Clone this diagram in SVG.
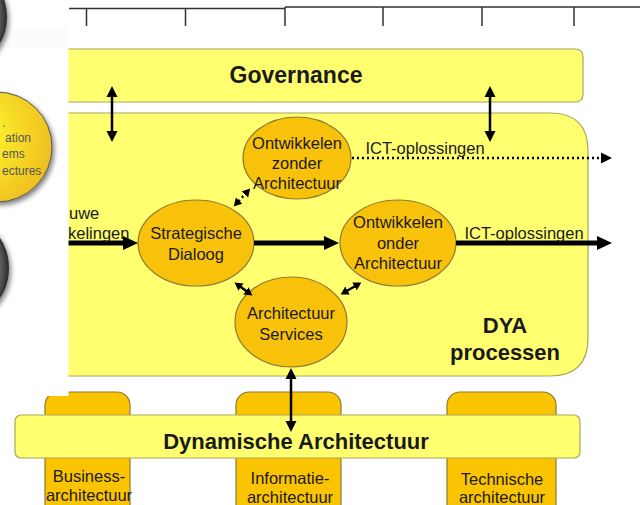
<svg xmlns="http://www.w3.org/2000/svg" width="640" height="505" viewBox="0 0 640 505">
<defs>
<style>
.bar{fill:#ffff70;stroke:#a9a65a;stroke-width:1.2}
.box{fill:#fac400;stroke:#8d7a35;stroke-width:1.2}
.ell{fill:#f9c20a;stroke:#8d7a35;stroke-width:1.2}
.t{font-family:"Liberation Sans",Arial,sans-serif;font-size:16.5px;fill:#1a1a1a;text-anchor:middle}
.tb{font-family:"Liberation Sans",Arial,sans-serif;font-weight:bold;font-size:22px;fill:#1a1a1a;text-anchor:middle}
.tl{font-family:"Liberation Sans",Arial,sans-serif;font-size:12px;fill:#555;text-anchor:start}
.thick{stroke:#000;stroke-width:5;fill:none}
.med{stroke:#000;stroke-width:2.5;fill:none}
.dot{stroke:#000;stroke-width:2.5;stroke-dasharray:2 3;fill:none}
.rule{stroke:#333;stroke-width:1.5;fill:none}
</style>
<marker id="ah" markerUnits="userSpaceOnUse" markerWidth="16" markerHeight="16" refX="1" refY="8" orient="auto"><path d="M0,1 L15,8 L0,15 z" fill="#000"/></marker>
<marker id="am" markerUnits="userSpaceOnUse" markerWidth="12" markerHeight="12" refX="1" refY="6" orient="auto-start-reverse"><path d="M0,0.5 L11,6 L0,11.5 z" fill="#000"/></marker>
<marker id="as" markerUnits="userSpaceOnUse" markerWidth="10" markerHeight="10" refX="1" refY="5" orient="auto-start-reverse"><path d="M0,0.5 L8,5 L0,9.5 z" fill="#000"/></marker>
<radialGradient id="lg" cx="0.3" cy="0.4" r="0.7"><stop offset="0" stop-color="#ffff30"/><stop offset="1" stop-color="#f0c020"/></radialGradient>
<radialGradient id="dg" cx="0.3" cy="0.5" r="0.7"><stop offset="0" stop-color="#eeeeee"/><stop offset="0.8" stop-color="#888"/><stop offset="1" stop-color="#333"/></radialGradient>
<filter id="sh" x="-30%" y="-30%" width="160%" height="160%"><feGaussianBlur in="SourceAlpha" stdDeviation="2.5"/><feOffset dx="2" dy="3"/><feComponentTransfer><feFuncA type="linear" slope="0.5"/></feComponentTransfer><feMerge><feMergeNode/><feMergeNode in="SourceGraphic"/></feMerge></filter>
</defs>
<rect width="640" height="505" fill="#fff"/>

<g id="ruler">
<path class="rule" d="M69,8.5 H285 M285,7 H640 M86.5,8.5 V26 M185.5,8.5 V26 M285,7 V26 M383,7 V26 M482,7 V26 M574,7 V26"/>
</g>

<g id="dya-box">
<path class="bar" d="M40,113 H550 Q588,113 588,151 V338 Q588,376 550,376 H40 Z"/>
<text class="tb" x="505" y="333">DYA</text>
<text class="tb" x="505" y="360">processen</text>
</g>

<g id="governance">
<path class="bar" d="M40,49 H575 Q583,49 583,57 V94 Q583,102 575,102 H40 Z"/>
<text class="tb" x="296" y="83" style="font-size:23px">Governance</text>
</g>

<g id="business">
<rect class="box" x="45" y="392" width="85" height="125" rx="13"/>
<text class="t" x="89" y="482">Business-</text>
<text class="t" x="89" y="501">architectuur</text>
</g>
<g id="informatie">
<rect class="box" x="236" y="392" width="105" height="125" rx="13"/>
<text class="t" x="290" y="484">Informatie-</text>
<text class="t" x="290" y="503">architectuur</text>
</g>
<g id="technische">
<rect class="box" x="447" y="392" width="109" height="125" rx="13"/>
<text class="t" x="502" y="485">Technische</text>
<text class="t" x="502" y="503">architectuur</text>
</g>

<g id="dynamische">
<rect class="bar" x="15" y="415" width="565" height="43" rx="6"/>
<text class="tb" x="296" y="449">Dynamische Architectuur</text>
</g>

<g id="zonder">
<ellipse class="ell" cx="297" cy="158" rx="54" ry="41"/>
<text class="t" x="297" y="149">Ontwikkelen</text>
<text class="t" x="297" y="169">zonder</text>
<text class="t" x="297" y="189">Architectuur</text>
</g>
<g id="strategische">
<ellipse class="ell" cx="196" cy="243" rx="58" ry="43"/>
<text class="t" x="196" y="239">Strategische</text>
<text class="t" x="196" y="260">Dialoog</text>
</g>
<g id="onder">
<ellipse class="ell" cx="398" cy="243" rx="58" ry="43"/>
<text class="t" x="398" y="228">Ontwikkelen</text>
<text class="t" x="398" y="249">onder</text>
<text class="t" x="398" y="269">Architectuur</text>
</g>
<g id="services">
<ellipse class="ell" cx="291" cy="322" rx="56" ry="45"/>
<text class="t" x="291" y="319">Architectuur</text>
<text class="t" x="291" y="340">Services</text>
</g>

<g id="connectors">
<line class="med" x1="112" y1="96" x2="112" y2="132" marker-start="url(#am)" marker-end="url(#am)"/>
<line class="med" x1="490" y1="96" x2="490" y2="132" marker-start="url(#am)" marker-end="url(#am)"/>
<line class="med" x1="291" y1="378" x2="291" y2="422" marker-start="url(#am)" marker-end="url(#am)"/>
<line class="thick" x1="60" y1="243" x2="124" y2="243" marker-end="url(#ah)"/>
<line class="thick" x1="254" y1="243" x2="325" y2="243" marker-end="url(#ah)"/>
<line class="thick" x1="456" y1="243" x2="598" y2="243" marker-end="url(#ah)"/>
<line class="dot" x1="352" y1="158" x2="602" y2="158" marker-end="url(#am)"/>
<line class="dot" x1="238.5" y1="201.3" x2="245.5" y2="193.7" marker-start="url(#as)" marker-end="url(#as)"/>
<line class="med" x1="240.2" y1="286.6" x2="246.8" y2="291.4" marker-start="url(#as)" marker-end="url(#as)"/>
<line class="med" x1="355.3" y1="286" x2="346.7" y2="291" marker-start="url(#as)" marker-end="url(#as)"/>
<text class="t" x="425" y="154">ICT-oplossingen</text>
<text class="t" x="524" y="239">ICT-oplossingen</text>
<text class="t" x="69" y="219" style="text-anchor:start">uwe</text>
<text class="t" x="68" y="239" style="text-anchor:start">kelingen</text>
</g>

<rect x="0" y="0" width="68.5" height="396" fill="#fff"/>
<rect x="0" y="28" width="68.5" height="20" fill="#fcfcfc"/>

<g id="left-circles">
<circle cx="-45" cy="17" r="51" fill="url(#dg)" stroke="#333" stroke-width="2" filter="url(#sh)"/>
<circle cx="-3" cy="147" r="55" fill="url(#lg)" stroke="#555" stroke-width="1" filter="url(#sh)"/>
<text class="tl" x="2" y="127">.</text>
<text class="tl" x="5" y="142">ation</text>
<text class="tl" x="2" y="158">ems</text>
<text class="tl" x="2" y="175">ectures</text>
<circle cx="-45" cy="268" r="53" fill="url(#dg)" stroke="#333" stroke-width="2" filter="url(#sh)"/>
</g>
</svg>
